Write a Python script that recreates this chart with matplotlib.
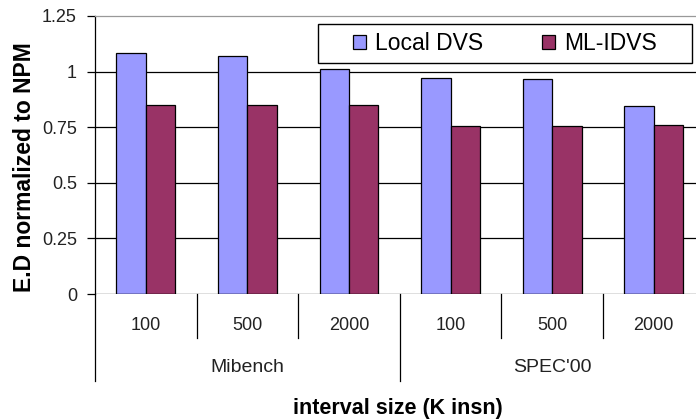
import matplotlib
matplotlib.use("Agg")
import matplotlib.pyplot as plt
from matplotlib.patches import Rectangle, Patch
from matplotlib.transforms import blended_transform_factory

plt.rcParams['font.family'] = ['Liberation Sans', 'DejaVu Sans']

# data
interval_sizes = ["100", "500", "2000", "100", "500", "2000"]
suites = ["Mibench", "SPEC'00"]
local_dvs = [1.085, 1.07, 1.01, 0.973, 0.967, 0.845]
ml_idvs = [0.851, 0.851, 0.851, 0.754, 0.754, 0.761]
series_names = ["Local DVS", "ML-IDVS"]
y_ticks = [0, 0.25, 0.5, 0.75, 1.0, 1.25]
y_tick_labels = ["0", "0.25", "0.5", "0.75", "1", "1.25"]

W, H = 696, 419
fig = plt.figure(figsize=(W / 100, H / 100), dpi=100)

# plot area runs slightly past the right edge of the canvas
left_px, right_px, top_px, bottom_px = 95, 704.6, 16, 294
ax = fig.add_axes([left_px / W, 1 - bottom_px / H,
                   (right_px - left_px) / W, (bottom_px - top_px) / H])

blue = "#9999FF"
plum = "#993366"
bw = 0.29
xs = list(range(len(interval_sizes)))

ax.bar([x - bw / 2 for x in xs], local_dvs, width=bw, color=blue,
       edgecolor="black", linewidth=0.9, zorder=3)
ax.bar([x + bw / 2 for x in xs], ml_idvs, width=bw, color=plum,
       edgecolor="black", linewidth=0.9, zorder=3)

ax.set_xlim(-0.5, len(xs) - 0.5)
ax.set_ylim(0, 1.25)

# horizontal gridlines
for v in y_ticks[1:-1]:
    ax.axhline(v, color="black", linewidth=0.9, zorder=1)

for s in ["right", "bottom"]:
    ax.spines[s].set_visible(False)
ax.spines["top"].set_color("#999999")
ax.spines["top"].set_linewidth(0.9)
ax.spines["left"].set_linewidth(0.9)
ax.axhline(0, color="black", linewidth=0.9, zorder=4)

ax.set_yticks(y_ticks)
ax.set_yticklabels(y_tick_labels, fontsize=13, color="#222222")
ax.tick_params(axis="y", direction="out", length=6, width=0.9, pad=7)
ax.set_xticks([])

# two-level category axis
tr = blended_transform_factory(ax.transData, ax.transAxes)
h_px = bottom_px - top_px
short_end = -(338 - bottom_px) / h_px
long_end = -(381 - bottom_px) / h_px
label_y = -(325 - bottom_px) / h_px
group_y = -(367 - bottom_px) / h_px

for b in [0.5, 1.5, 3.5, 4.5]:
    ax.plot([b, b], [0, short_end], color="black", linewidth=0.9,
            transform=tr, clip_on=False)
for b in [-0.5, 2.5, 5.5]:
    ax.plot([b, b], [0, long_end], color="black", linewidth=0.9,
            transform=tr, clip_on=False)

for x, lab in zip(xs, interval_sizes):
    ax.text(x, label_y, lab, transform=tr, ha="center", va="center",
            fontsize=13, color="#222222")
for g, name in enumerate(suites):
    ax.text(3 * g + 1, group_y, name, transform=tr, ha="center",
            va="center", fontsize=14, color="#222222")

# axis titles
fig.text(398 / W, 1 - 408 / H, "interval size (K insn)", ha="center",
         va="center", fontsize=15.5, fontweight="bold")
fig.text(25 / W, 1 - 167 / H, "E.D normalized to NPM", ha="center",
         va="center", rotation=90, fontsize=16.5, fontweight="bold")

# legend with a boxed frame
fig.patches.append(Rectangle((318 / W, 1 - 63 / H), 374 / W, 39 / H,
                             transform=fig.transFigure, facecolor="white",
                             edgecolor="black", linewidth=1.0, zorder=5))
handles = [Patch(facecolor=blue, edgecolor="black", linewidth=0.9),
           Patch(facecolor=plum, edgecolor="black", linewidth=0.9)]
leg = fig.legend(handles, series_names, loc="center",
                 bbox_to_anchor=(505 / W, 1 - 43.5 / H), ncol=2,
                 frameon=False, fontsize=16.5, handlelength=0.55,
                 handleheight=0.55, handletextpad=0.4, columnspacing=2.6,
                 borderpad=0)
leg.set_zorder(6)

fig.savefig("out.png", dpi=100)
